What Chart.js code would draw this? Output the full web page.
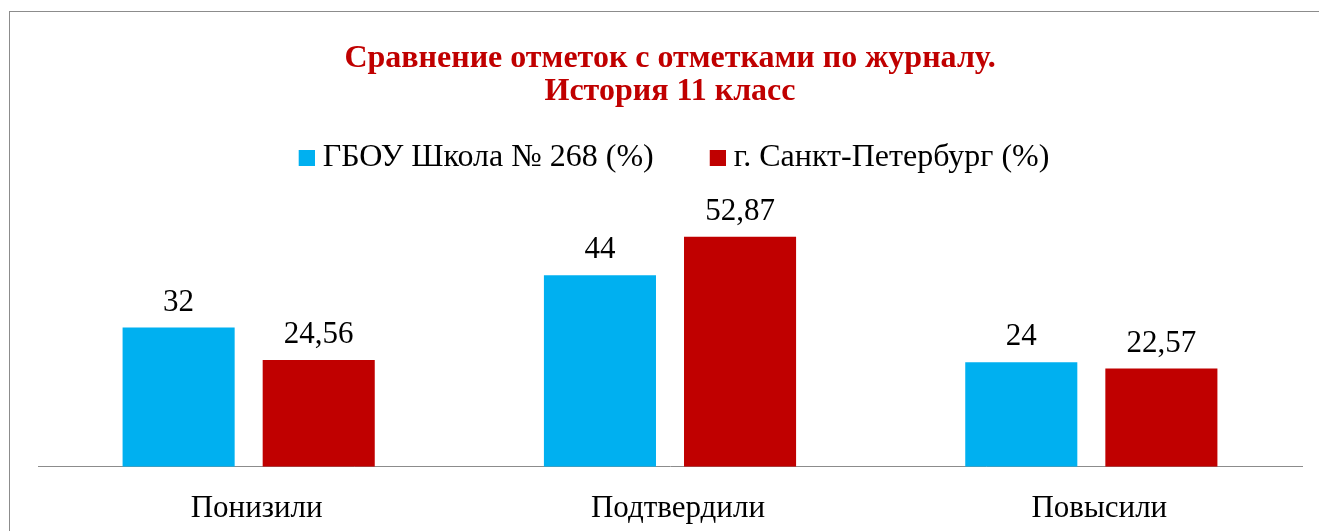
<!DOCTYPE html>
<html lang="ru">
<head>
<meta charset="utf-8">
<script src="https://cdn.jsdelivr.net/npm/chart.js@4/dist/chart.umd.min.js"></script>
<style>
  html, body { margin: 0; padding: 0; background: #fff; overflow: hidden; width: 1319px; height: 531px; }
  .frame { position: absolute; left: 9px; top: 11px; width: 1330px; height: 540px; border: 1px solid #8c8c8c; }
  .chartbox { position: absolute; left: 0; top: 0; width: 1319px; height: 550px; }
</style>
</head>
<body>
<div class="frame"></div>
<div class="chartbox"><canvas id="chart"></canvas></div>
<script>
const categories = ['Понизили', 'Подтвердили', 'Повысили'];
const schoolValues = [32, 44, 24];
const cityValues = [24.56, 52.87, 22.57];
const seriesNames = ['ГБОУ Школа № 268 (%)', 'г. Санкт-Петербург (%)'];
const seriesColors = ['#00B0F0', '#C00000'];
const titleLines = ['Сравнение отметок с отметками по журналу.', 'История 11 класс'];

const serif = "'Liberation Serif', 'Times New Roman', serif";

// маркер легенды: квадрат в правой половине, чтобы текст стоял ближе
function legendMarker(color) {
  const c = document.createElement('canvas');
  c.width = 32;
  c.height = 16;
  const g = c.getContext('2d');
  g.fillStyle = color;
  g.fillRect(16, 0, 16, 16);
  return c;
}

// подписи значений над столбцами
const valueLabels = {
  id: 'valueLabels',
  afterDatasetsDraw(chart) {
    const ctx = chart.ctx;
    ctx.save();
    ctx.font = `31px ${serif}`;
    ctx.fillStyle = '#000';
    ctx.textAlign = 'center';
    ctx.textBaseline = 'alphabetic';
    chart.data.datasets.forEach((ds, i) => {
      chart.getDatasetMeta(i).data.forEach((bar, j) => {
        const text = String(ds.data[j]).replace('.', ',');
        ctx.fillText(text, bar.x, bar.y - 17);
      });
    });
    ctx.restore();
  }
};

new Chart(document.getElementById('chart'), {
  type: 'bar',
  data: {
    labels: categories,
    datasets: [
      { label: seriesNames[0], data: schoolValues, backgroundColor: seriesColors[0] },
      { label: seriesNames[1], data: cityValues, backgroundColor: seriesColors[1] }
    ]
  },
  options: {
    responsive: true,
    maintainAspectRatio: false,
    animation: false,
    devicePixelRatio: 1,
    categoryPercentage: 0.665,
    barPercentage: 0.8,
    layout: { padding: { left: 38, right: 17, top: 0, bottom: 0 } },
    scales: {
      x: {
        grid: { display: false, drawTicks: false },
        border: { display: true, color: '#8c8c8c', width: 1 },
        ticks: { color: '#000', padding: 23, labelOffset: 8, font: { family: serif, size: 31 } }
      },
      y: { display: false, min: 0, max: 65 }
    },
    plugins: {
      title: {
        display: true,
        text: titleLines,
        color: '#C00000',
        font: { family: serif, size: 32, weight: 'bold', lineHeight: 1.03 },
        padding: { top: 42, bottom: -14 }
      },
      legend: {
        display: true,
        labels: {
          color: '#000',
          boxWidth: 16,
          boxHeight: 16,
          padding: 48,
          usePointStyle: true,
          font: { family: serif, size: 32 },
          generateLabels(chart) {
            const items = Chart.defaults.plugins.legend.labels.generateLabels(chart);
            items.forEach((item, i) => {
              item.pointStyle = legendMarker(seriesColors[i]);
            });
            return items;
          }
        }
      },
      tooltip: { enabled: false }
    }
  },
  plugins: [valueLabels]
});
</script>
</body>
</html>
